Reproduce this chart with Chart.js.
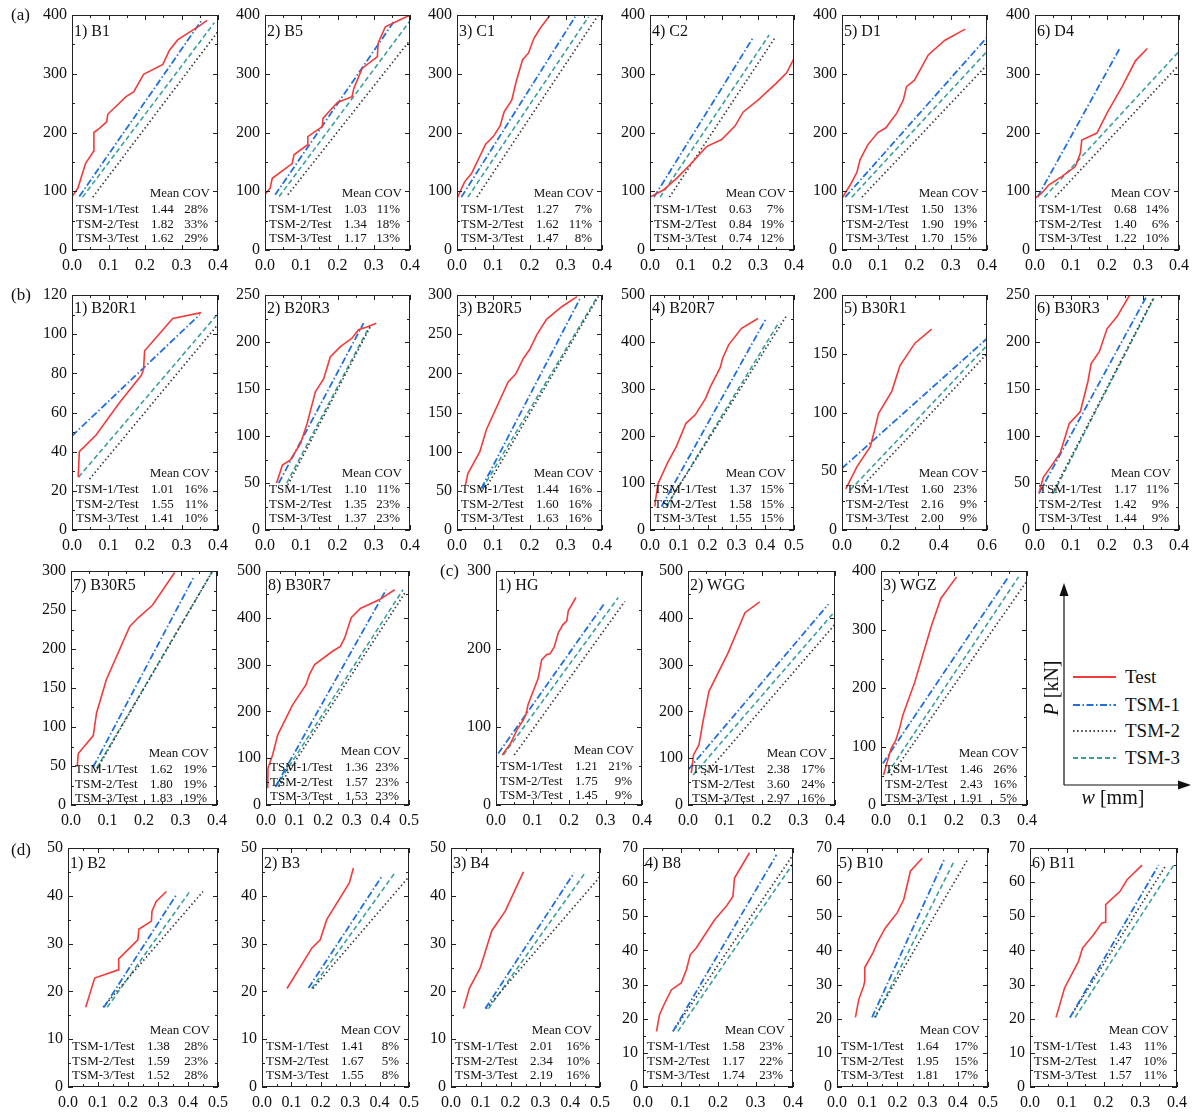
<!DOCTYPE html>
<html>
<head>
<meta charset="utf-8">
<script src="https://cdn.jsdelivr.net/npm/chart.js@4.4.0/dist/chart.umd.min.js"></script>
<style>
  body { margin: 0; background: #fff; }
  #fig { position: relative; width: 1198px; height: 1113px; font-family: "Liberation Serif", "Times New Roman", serif; color: #111; overflow: hidden; }
  .panel { position: absolute; }
  .panel canvas { position: absolute; left: 0; top: 0; }
  .txt { position: absolute; white-space: nowrap; }
</style>
</head>
<body>
<div id="fig"></div>
<script>
// ---- (a) ----
const testB1 = [[0,91],[0.016,105],[0.037,147],[0.059,168],[0.06,200],[0.075,207],[0.095,218],[0.098,231],[0.148,261],[0.169,269],[0.196,299],[0.249,316],[0.267,340],[0.29,358],[0.348,381],[0.37,391]];
const tsm1B1 = [[0.02,91],[0.354,390]];
const tsm2B1 = [[0.057,90],[0.4,372]];
const tsm3B1 = [[0.029,90],[0.39,387]];
const statsB1 = [[1.44,28],[1.82,33],[1.62,29]];

const testB5 = [[0,95],[0.014,105],[0.02,122],[0.075,147],[0.08,162],[0.117,179],[0.118,193],[0.158,210],[0.16,224],[0.18,238],[0.2,251],[0.24,261],[0.245,275],[0.268,309],[0.31,329],[0.312,352],[0.332,380],[0.4,400]];
const tsm1B5 = [[0.028,94],[0.358,391]];
const tsm2B5 = [[0.063,94],[0.4,357]];
const tsm3B5 = [[0.039,91],[0.4,390]];
const statsB5 = [[1.03,11],[1.34,18],[1.17,13]];

const testC1 = [[0,88],[0.021,116],[0.04,130],[0.079,180],[0.1,193],[0.119,211],[0.13,235],[0.151,255],[0.163,286],[0.181,324],[0.197,335],[0.212,360],[0.229,377],[0.257,400]];
const tsm1C1 = [[0.012,90],[0.326,397]];
const tsm2C1 = [[0.055,90],[0.39,400]];
const tsm3C1 = [[0.03,90],[0.363,397]];
const statsC1 = [[1.27,7],[1.62,11],[1.47,8]];

const testC2 = [[0,90],[0.037,102],[0.074,122],[0.111,145],[0.157,176],[0.199,188],[0.236,211],[0.259,235],[0.3,255],[0.351,284],[0.38,302],[0.4,326]];
const tsm1C2 = [[0.011,90],[0.288,363]];
const tsm2C2 = [[0.054,90],[0.349,363]];
const tsm3C2 = [[0.028,90],[0.331,366]];
const statsC2 = [[0.63,7],[0.84,19],[0.74,12]];

const testD1 = [[0,88],[0.023,111],[0.041,132],[0.05,154],[0.071,179],[0.099,200],[0.121,208],[0.151,233],[0.169,255],[0.178,278],[0.2,289],[0.238,332],[0.284,357],[0.34,376]];
const tsm1D1 = [[0.009,90],[0.4,362]];
const tsm2D1 = [[0.055,90],[0.4,315]];
const tsm3D1 = [[0.027,90],[0.4,338]];
const statsD1 = [[1.50,13],[1.90,19],[1.70,15]];

const testD4 = [[0,88],[0.019,97],[0.039,111],[0.074,125],[0.112,142],[0.126,165],[0.13,187],[0.172,199],[0.2,233],[0.242,278],[0.279,322],[0.312,343]];
const tsm1D4 = [[0.007,90],[0.237,345]];
const tsm2D4 = [[0.056,90],[0.4,315]];
const tsm3D4 = [[0.026,90],[0.4,338]];
const statsD4 = [[0.68,14],[1.40,6],[1.22,10]];

// ---- (b) ----
const testB20R1 = [[0.017,27],[0.02,40],[0.066,48.5],[0.13,65],[0.19,79],[0.196,82],[0.199,91.5],[0.276,108],[0.354,111]];
const tsm1B20R1 = [[0,48],[0.35,110]];
const tsm2B20R1 = [[0.048,26],[0.4,105]];
const tsm3B20R1 = [[0.018,27],[0.4,110.5]];
const statsB20R1 = [[1.01,16],[1.55,11],[1.41,10]];

const testB20R3 = [[0.032,50],[0.048,69],[0.07,74.5],[0.098,92],[0.116,113],[0.139,147],[0.162,161],[0.18,184],[0.208,195],[0.24,204],[0.258,213],[0.281,216],[0.307,220]];
const tsm1B20R3 = [[0.038,50],[0.272,220]];
const tsm2B20R3 = [[0.063,48],[0.29,216]];
const tsm3B20R3 = [[0.06,50],[0.29,218]];
const statsB20R3 = [[1.10,11],[1.35,23],[1.37,23]];

const testB20R5 = [[0.023,57],[0.03,72],[0.063,100],[0.081,128],[0.141,189],[0.162,199],[0.183,219],[0.2,230],[0.22,249],[0.247,269],[0.289,285],[0.331,298]];
const tsm1B20R5 = [[0.067,53],[0.34,296]];
const tsm2B20R5 = [[0.079,53],[0.39,298]];
const tsm3B20R5 = [[0.07,53],[0.39,300]];
const statsB20R5 = [[1.44,16],[1.60,16],[1.63,16]];

const testB20R7 = [[0.017,50],[0.02,67],[0.028,99],[0.0625,145],[0.091,177],[0.125,227],[0.157,245],[0.193,280],[0.21,305],[0.244,346],[0.252,365],[0.273,394],[0.318,429],[0.375,450]];
const tsm1B20R7 = [[0.04,50],[0.403,450]];
const tsm2B20R7 = [[0.059,53],[0.472,454]];
const tsm3B20R7 = [[0.057,50],[0.449,443]];
const statsB20R7 = [[1.37,15],[1.58,15],[1.55,15]];

const testB30R1 = [[0.016,35],[0.062,54],[0.117,71],[0.135,85],[0.151,99],[0.206,118],[0.24,140],[0.302,159],[0.371,171]];
const tsm1B30R1 = [[0,52.5],[0.6,163]];
const tsm2B30R1 = [[0.069,34],[0.6,150]];
const tsm3B30R1 = [[0.034,34],[0.6,157]];
const statsB30R1 = [[1.60,23],[2.16,9],[2.00,9]];

const testB30R3 = [[0.011,39],[0.023,56],[0.047,69],[0.07,82],[0.095,113],[0.126,126],[0.147,158],[0.156,177],[0.179,190],[0.2,214],[0.228,227],[0.263,250]];
const tsm1B30R3 = [[0.011,39],[0.312,250]];
const tsm2B30R3 = [[0.048,39],[0.33,247.5]];
const tsm3B30R3 = [[0.051,39],[0.33,246.5]];
const statsB30R3 = [[1.17,11],[1.42,9],[1.44,9]];

const testB30R5 = [[0.017,49],[0.02,66],[0.061,89],[0.07,118],[0.097,161],[0.161,229],[0.184,240],[0.223,256],[0.284,298]];
const tsm1B30R5 = [[0.061,49],[0.335,291]];
const tsm2B30R5 = [[0.072,47],[0.388,300]];
const tsm3B30R5 = [[0.07,47],[0.388,300]];
const statsB30R5 = [[1.62,19],[1.80,19],[1.83,19]];

const testB30R7 = [[0.006,36],[0.007,79],[0.023,107],[0.041,150],[0.093,214],[0.14,257],[0.152,279],[0.17,300],[0.234,329],[0.26,339],[0.275,357],[0.298,400],[0.33,420],[0.397,439],[0.45,460]];
const tsm1B30R7 = [[0.033,39],[0.42,460]];
const tsm2B30R7 = [[0.044,39],[0.49,457]];
const tsm3B30R7 = [[0.035,39],[0.479,460]];
const statsB30R7 = [[1.36,23],[1.57,23],[1.53,23]];

// ---- (c) ----
const testHG = [[0.017,64],[0.031,73],[0.04,79],[0.057,96],[0.075,109],[0.082,116],[0.088,129],[0.116,163],[0.125,186],[0.139,193],[0.148,194],[0.159,202],[0.171,221],[0.183,231],[0.194,236],[0.198,249],[0.219,266]];
const tsm1HG = [[0.006,66],[0.298,259]];
const tsm2HG = [[0.05,64],[0.353,261]];
const tsm3HG = [[0.02,64],[0.335,266]];
const statsHG = [[1.21,21],[1.75,9],[1.45,9]];

const testWGG = [[0.009,68],[0.015,107],[0.03,129],[0.041,179],[0.057,243],[0.109,325],[0.155,411],[0.195,434]];
const tsm1WGG = [[0,75],[0.382,429]];
const tsm2WGG = [[0.045,64],[0.4,386]];
const tsm3WGG = [[0.014,64],[0.4,414]];
const statsWGG = [[2.38,17],[3.60,24],[2.97,16]];

const testWGZ = [[0.007,51],[0.017,74],[0.028,97],[0.04,110],[0.051,131],[0.06,154],[0.092,209],[0.138,306],[0.164,353],[0.207,390]];
const tsm1WGZ = [[0.005,71],[0.348,389]];
const tsm2WGZ = [[0.028,51],[0.4,383]];
const tsm3WGZ = [[0.018,54],[0.377,390]];
const statsWGZ = [[1.46,26],[2.43,16],[1.91,5]];

// ---- (d) ----
const testB2 = [[0.059,16.7],[0.089,22.8],[0.167,24.5],[0.169,26.8],[0.233,30.8],[0.236,33],[0.278,34.7],[0.28,36.8],[0.294,38.8],[0.328,40.9]];
const tsm1B2 = [[0.12,16.7],[0.361,40.2]];
const tsm2B2 = [[0.117,16.7],[0.45,40.9]];
const tsm3B2 = [[0.131,16.7],[0.406,40.9]];
const statsB2 = [[1.38,28],[1.59,23],[1.52,28]];

const testB3 = [[0.085,20.6],[0.17,29.1],[0.198,30.8],[0.22,35],[0.297,42.7],[0.311,45.8]];
const tsm1B3 = [[0.158,20.7],[0.407,44]];
const tsm2B3 = [[0.173,20.6],[0.5,44]];
const tsm3B3 = [[0.169,20.6],[0.452,44.8]];
const statsB3 = [[1.41,8],[1.67,5],[1.55,8]];

const testB4 = [[0.042,16.4],[0.062,20.7],[0.098,24.9],[0.137,32.7],[0.182,36.8],[0.243,45]];
const tsm1B4 = [[0.115,16.4],[0.413,44.8]];
const tsm2B4 = [[0.118,16.4],[0.5,44]];
const tsm3B4 = [[0.126,16.4],[0.45,44.8]];
const statsB4 = [[2.01,16],[2.34,10],[2.19,16]];

const testB8 = [[0.036,16.3],[0.044,21.2],[0.058,24.6],[0.076,28.5],[0.102,30.5],[0.116,34.4],[0.126,38.8],[0.142,40.7],[0.191,49],[0.222,52.9],[0.24,55.9],[0.244,61.2],[0.284,68.6]];
const tsm1B8 = [[0.08,16.3],[0.356,68]];
const tsm2B8 = [[0.08,16.3],[0.4,68]];
const tsm3B8 = [[0.093,16.3],[0.4,65.4]];
const statsB8 = [[1.58,23],[1.17,22],[1.74,23]];

const testB10 = [[0.061,20.4],[0.072,25.6],[0.088,29.5],[0.092,31],[0.092,35],[0.119,39.3],[0.133,42.2],[0.16,46.6],[0.199,51],[0.221,54.9],[0.243,63.2],[0.282,67]];
const tsm1B10 = [[0.116,20.4],[0.357,67]];
const tsm2B10 = [[0.125,20.4],[0.435,67]];
const tsm3B10 = [[0.127,20.4],[0.387,66]];
const statsB10 = [[1.64,17],[1.95,15],[1.81,17]];

const testB11 = [[0.071,20.4],[0.094,29],[0.132,36.8],[0.143,40.7],[0.173,44.6],[0.195,48],[0.206,48.3],[0.206,53.4],[0.245,57.3],[0.264,60.7],[0.305,65]];
const tsm1B11 = [[0.109,20.4],[0.35,65]];
const tsm2B11 = [[0.109,20.4],[0.368,64.6]];
const tsm3B11 = [[0.123,20.4],[0.391,65]];
const statsB11 = [[1.43,11],[1.47,10],[1.57,11]];

const rowLetters = ["(a)", "(b)", "(c)", "(d)"];
const statLabels = ["TSM-1/Test", "TSM-2/Test", "TSM-3/Test"];
const legendLabels = ["Test", "TSM-1", "TSM-2", "TSM-3"];

const RED = "#f23b3b", BLUE = "#1f6fdc", DARK = "#3a3a3a", TEAL = "#3b9f9b";
const seriesStyle = [
  { color: RED, dash: [], width: 1.6 },
  { color: BLUE, dash: [7, 2.5, 1.5, 2.5], width: 1.8 },
  { color: DARK, dash: [1.5, 2.6], width: 1.7 },
  { color: TEAL, dash: [5, 3], width: 1.6 },
];

// plot boxes: [left, top, width, height] of the plotting area
const panels = [
  { name: "1) B1", s: [testB1, tsm1B1, tsm2B1, tsm3B1], stats: statsB1, x: [0.4, 0.1], y: [400, 100], box: [72, 15, 146, 235], ty: 16 },
  { name: "2) B5", s: [testB5, tsm1B5, tsm2B5, tsm3B5], stats: statsB5, x: [0.4, 0.1], y: [400, 100], box: [265, 15, 145, 235], ty: 16 },
  { name: "3) C1", s: [testC1, tsm1C1, tsm2C1, tsm3C1], stats: statsC1, x: [0.4, 0.1], y: [400, 100], box: [457, 15, 145, 235], ty: 16 },
  { name: "4) C2", s: [testC2, tsm1C2, tsm2C2, tsm3C2], stats: statsC2, x: [0.4, 0.1], y: [400, 100], box: [650, 15, 144, 235], ty: 16 },
  { name: "5) D1", s: [testD1, tsm1D1, tsm2D1, tsm3D1], stats: statsD1, x: [0.4, 0.1], y: [400, 100], box: [842, 15, 145, 235], ty: 16 },
  { name: "6) D4", s: [testD4, tsm1D4, tsm2D4, tsm3D4], stats: statsD4, x: [0.4, 0.1], y: [400, 100], box: [1035, 15, 144, 235], ty: 16 },

  { name: "1) B20R1", s: [testB20R1, tsm1B20R1, tsm2B20R1, tsm3B20R1], stats: statsB20R1, x: [0.4, 0.1], y: [120, 20], box: [72, 295, 146, 235], ty: 13 },
  { name: "2) B20R3", s: [testB20R3, tsm1B20R3, tsm2B20R3, tsm3B20R3], stats: statsB20R3, x: [0.4, 0.1], y: [250, 50], box: [265, 295, 145, 235], ty: 13 },
  { name: "3) B20R5", s: [testB20R5, tsm1B20R5, tsm2B20R5, tsm3B20R5], stats: statsB20R5, x: [0.4, 0.1], y: [300, 50], box: [457, 295, 145, 235], ty: 13 },
  { name: "4) B20R7", s: [testB20R7, tsm1B20R7, tsm2B20R7, tsm3B20R7], stats: statsB20R7, x: [0.5, 0.1], y: [500, 100], box: [650, 295, 144, 235], ty: 13 },
  { name: "5) B30R1", s: [testB30R1, tsm1B30R1, tsm2B30R1, tsm3B30R1], stats: statsB30R1, x: [0.6, 0.2], y: [200, 50], box: [842, 295, 145, 235], ty: 13 },
  { name: "6) B30R3", s: [testB30R3, tsm1B30R3, tsm2B30R3, tsm3B30R3], stats: statsB30R3, x: [0.4, 0.1], y: [250, 50], box: [1035, 295, 144, 235], ty: 13 },

  { name: "7) B30R5", s: [testB30R5, tsm1B30R5, tsm2B30R5, tsm3B30R5], stats: statsB30R5, x: [0.4, 0.1], y: [300, 50], box: [71, 571, 146, 234], ty: 14, sy: 5 },
  { name: "8) B30R7", s: [testB30R7, tsm1B30R7, tsm2B30R7, tsm3B30R7], stats: statsB30R7, x: [0.5, 0.1], y: [500, 100], box: [266, 571, 143, 234], ty: 14, sy: 3 },
  { name: "1) HG", s: [testHG, tsm1HG, tsm2HG, tsm3HG], stats: statsHG, x: [0.4, 0.1], y: [300, 100], box: [496, 571, 146, 234], ty: 14, sy: 2 },
  { name: "2) WGG", s: [testWGG, tsm1WGG, tsm2WGG, tsm3WGG], stats: statsWGG, x: [0.4, 0.1], y: [500, 100], box: [688, 571, 147, 234], ty: 14, sy: 5 },
  { name: "3) WGZ", s: [testWGZ, tsm1WGZ, tsm2WGZ, tsm3WGZ], stats: statsWGZ, x: [0.4, 0.1], y: [400, 100], box: [881, 571, 146, 234], ty: 14, sy: 5 },

  { name: "1) B2", s: [testB2, tsm1B2, tsm2B2, tsm3B2], stats: statsB2, x: [0.5, 0.1], y: [50, 10], box: [68, 848, 150, 239], ty: 15 },
  { name: "2) B3", s: [testB3, tsm1B3, tsm2B3, tsm3B3], stats: statsB3, x: [0.5, 0.1], y: [50, 10], box: [262, 848, 147, 239], ty: 15 },
  { name: "3) B4", s: [testB4, tsm1B4, tsm2B4, tsm3B4], stats: statsB4, x: [0.5, 0.1], y: [50, 10], box: [451, 848, 149, 239], ty: 15 },
  { name: "4) B8", s: [testB8, tsm1B8, tsm2B8, tsm3B8], stats: statsB8, x: [0.4, 0.1], y: [70, 10], box: [643, 848, 150, 239], ty: 15 },
  { name: "5) B10", s: [testB10, tsm1B10, tsm2B10, tsm3B10], stats: statsB10, x: [0.5, 0.1], y: [70, 10], box: [837, 848, 151, 239], ty: 15 },
  { name: "6) B11", s: [testB11, tsm1B11, tsm2B11, tsm3B11], stats: statsB11, x: [0.4, 0.1], y: [70, 10], box: [1030, 848, 147, 239], ty: 15 },
];

const YW = 50, PT = 12, PR = 18, XH = 26;
const STAT_Y = [-57, -41, -26.5, -12];

Chart.defaults.font.family = "'Liberation Serif', 'Times New Roman', serif";
Chart.defaults.font.size = 16;
Chart.defaults.color = "#111";

// inward ticks on all four sides + frame
const frameTicks = {
  id: "frameTicks",
  afterDraw(chart) {
    const { ctx, chartArea: a, scales } = chart;
    ctx.save();
    ctx.strokeStyle = "#222";
    ctx.lineWidth = 1;
    ctx.beginPath();
    const sx = scales.x, sy = scales.y;
    const nx = Math.round(sx.max / (sx.options.ticks.stepSize / 2));
    for (let i = 0; i <= nx; i++) {
      const px = Math.round(sx.getPixelForValue(i * sx.options.ticks.stepSize / 2)) + 0.5;
      const len = i % 2 === 0 ? 5 : 3;
      ctx.moveTo(px, a.bottom); ctx.lineTo(px, a.bottom - len);
      ctx.moveTo(px, a.top); ctx.lineTo(px, a.top + len);
    }
    const ny = Math.round(sy.max / (sy.options.ticks.stepSize / 2));
    for (let i = 0; i <= ny; i++) {
      const py = Math.round(sy.getPixelForValue(i * sy.options.ticks.stepSize / 2)) + 0.5;
      const len = i % 2 === 0 ? 5 : 3;
      ctx.moveTo(a.left, py); ctx.lineTo(a.left + len, py);
      ctx.moveTo(a.right, py); ctx.lineTo(a.right - len, py);
    }
    ctx.stroke();
    ctx.strokeRect(a.left + 0.5, a.top + 0.5, a.right - a.left - 1, a.bottom - a.top - 1);
    ctx.restore();
  },
};

const fig = document.getElementById("fig");

function addText(parent, html, css) {
  const d = document.createElement("div");
  d.className = "txt";
  d.innerHTML = html;
  Object.assign(d.style, css);
  parent.appendChild(d);
  return d;
}

function makePanel(p) {
  const [L, T, W, H] = p.box;
  const cw = W + YW + PR, ch = H + PT + XH;
  const div = document.createElement("div");
  div.className = "panel";
  Object.assign(div.style, { left: (L - YW) + "px", top: (T - PT) + "px", width: cw + "px", height: ch + "px" });
  const canvas = document.createElement("canvas");
  canvas.width = cw;
  canvas.height = ch;
  div.appendChild(canvas);
  fig.appendChild(div);

  // title and stats table
  addText(div, p.name, { left: (YW + 2) + "px", top: (PT + p.ty - 8) + "px", fontSize: "16px", lineHeight: "16px" });
  const shift = p.sy || 0;
  const bottom = PT + H + shift;
  addText(div, "Mean COV", { right: (cw - (YW + W - 8)) + "px", top: (bottom + STAT_Y[0] - 7) + "px", fontSize: "13px", lineHeight: "14px" });
  p.stats.forEach((row, i) => {
    const top = (bottom + STAT_Y[i + 1] - 7) + "px";
    addText(div, statLabels[i], { left: (YW + 4) + "px", top, fontSize: "13px", lineHeight: "14px" });
    addText(div, row[0].toFixed(2), { left: (YW + 79) + "px", top, fontSize: "13px", lineHeight: "14px" });
    addText(div, row[1] + "%", { right: (cw - (YW + W - 10)) + "px", top, fontSize: "13px", lineHeight: "14px" });
  });

  new Chart(canvas, {
    type: "scatter",
    data: {
      datasets: p.s.map((pts, k) => ({
        label: legendLabels[k],
        data: pts.map(([x, y]) => ({ x, y })),
        showLine: true,
        pointRadius: 0,
        borderColor: seriesStyle[k].color,
        borderWidth: seriesStyle[k].width,
        borderDash: seriesStyle[k].dash,
        tension: 0,
      })),
    },
    options: {
      responsive: false,
      devicePixelRatio: 1,
      animation: false,
      events: [],
      layout: { padding: { top: PT, right: PR, left: 0, bottom: 0 } },
      plugins: { legend: { display: false }, tooltip: { enabled: false } },
      scales: {
        x: {
          type: "linear",
          min: 0,
          max: p.x[0],
          grid: { display: false, drawTicks: false },
          border: { display: false },
          ticks: { stepSize: p.x[1], padding: 6, maxRotation: 0, autoSkip: false, callback: (v) => v.toFixed(1) },
          afterFit: (s) => { s.height = XH; s.paddingLeft = 0; s.paddingRight = 0; },
        },
        y: {
          type: "linear",
          min: 0,
          max: p.y[0],
          grid: { display: false, drawTicks: false },
          border: { display: false },
          ticks: { stepSize: p.y[1], padding: 5, autoSkip: false },
          afterFit: (s) => { s.width = YW; s.paddingTop = 0; s.paddingBottom = 0; },
        },
      },
    },
    plugins: [frameTicks],
  });
}

panels.forEach(makePanel);

// row letters
addText(fig, rowLetters[0], { left: "11px", top: "6px", fontSize: "17px", lineHeight: "18px" });
addText(fig, rowLetters[1], { left: "11px", top: "286px", fontSize: "17px", lineHeight: "18px" });
addText(fig, rowLetters[2], { left: "440px", top: "562px", fontSize: "17px", lineHeight: "18px" });
addText(fig, rowLetters[3], { left: "11px", top: "841px", fontSize: "17px", lineHeight: "18px" });

// legend box with axis arrows
const svgNS = "http://www.w3.org/2000/svg";
const svg = document.createElementNS(svgNS, "svg");
svg.setAttribute("width", "1198");
svg.setAttribute("height", "1113");
svg.style.position = "absolute";
svg.style.left = "0";
svg.style.top = "0";
svg.innerHTML = `
  <line x1="1064" y1="592" x2="1064" y2="785" stroke="#111" stroke-width="1.2"/>
  <line x1="1064" y1="785" x2="1181" y2="785" stroke="#111" stroke-width="1.2"/>
  <polygon points="1064,583 1059.5,596 1068.5,596" fill="#111"/>
  <polygon points="1191,785 1178,780.5 1178,789.5" fill="#111"/>
`;
const legendY = [677, 705, 731, 758];
seriesStyle.forEach((st, k) => {
  const ln = document.createElementNS(svgNS, "line");
  ln.setAttribute("x1", "1073");
  ln.setAttribute("x2", "1116");
  ln.setAttribute("y1", legendY[k]);
  ln.setAttribute("y2", legendY[k]);
  ln.setAttribute("stroke", st.color);
  ln.setAttribute("stroke-width", st.width + 0.4);
  if (st.dash.length) ln.setAttribute("stroke-dasharray", st.dash.join(" "));
  svg.appendChild(ln);
  addText(fig, legendLabels[k], { left: "1125px", top: (legendY[k] - 11) + "px", fontSize: "19px", lineHeight: "22px" });
});
fig.appendChild(svg);
addText(fig, "<i>P</i> [kN]", { left: "1051px", top: "688px", fontSize: "20px", lineHeight: "22px", transform: "translate(-50%, -50%) rotate(-90deg)" });
addText(fig, "<i>w</i> [mm]", { left: "1113px", top: "797px", fontSize: "20px", lineHeight: "22px", transform: "translate(-50%, -50%)" });
</script>
</body>
</html>
